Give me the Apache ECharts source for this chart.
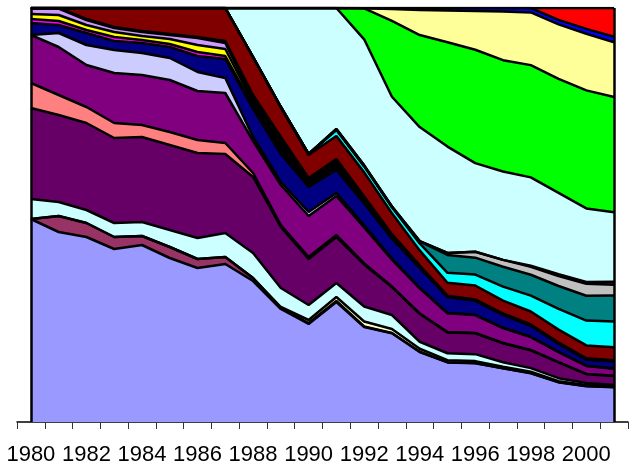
<!DOCTYPE html>
<html>
<head>
<meta charset="utf-8">
<script src="https://cdn.jsdelivr.net/npm/echarts@6/dist/echarts.min.js"></script>
<style>
html,body{margin:0;padding:0;background:#fff;}
#chart{width:632px;height:467px;}
</style>
</head>
<body>
<div id="chart"></div>
<script>
const years = ['1980','1981','1982','1983','1984','1985','1986','1987','1988','1989','1990','1991','1992','1993','1994','1995','1996','1997','1998','1999','2000','2001'];

// layer shares per year (bottom to top); normalised to 100% per year below
const periwinkle = [203,190,185,173,177,164,154,158,141,113,98,120,95,89,70,60,59,54,49,40,36,35];
const plum       = [0,16,14,12,9,11,9,7,3,1,1,1,0.5,0.3,0.2,0.2,0.2,0.2,0.2,0.2,0.2,0.2];
const ivory      = [0,0,0,0,0,0,0,0,0,1,3,4,5,4,3,2,2,1.5,1.5,1,1,1];
const paleCyan   = [20,14,13,14,14,17,21,24,25,19,15,14,15,14,7,7,7,4.5,3.5,3,2,1];
const darkPurple = [91,87,87,85,85,85,85,79,76,61,46,46,42,28,28,21,21,19,18,16,9,9];
const salmon     = [25,20,16,15,12,13,13,11,4,2,2,2,1,0.5,0.3,0.3,0.3,0.3,0.3,0.3,0.3,0.3];
const purple     = [48,48,42,50,50,52,49,50,32,40,41,39,36,27,25,19,18,15,13,10,8,7];
const lavender   = [0,14,20,23,22,22,19,15,4,3,4,3,2,1,0.5,0.3,0.3,0.3,0.3,0.3,0.3,0.3];
const navy       = [12,8,12,9,10,11,16,19,28,28,25,23,22,20,20,16,14,13,11,8,6,7];
const magenta    = [4,4,3,4,3,3,4,3,3,2,2,2,1,0.5,0.5,0.3,0.3,0.3,0.3,0.3,0.3,0.3];
const yellow     = [5,6,5,5,4,5,7,7,3,2,2,2,1,0.5,0.5,0.3,0.3,0.3,0.3,0.3,0.3,0.3];
const lilac      = [5.5,6.5,5,4,4,4,7,6,3,2,2,2,1,0.5,0.5,0.3,0.3,0.3,0.3,0.3,0.3,0.3];
const black      = [0.5,0.5,1,1,1,1,1,2,5,11,3,5,4,3,1,0.5,0.5,0.5,0.5,0.5,0.5,0.5];
const maroon     = [0,0,11,19,23,26,29,33,38,30,23,23,24,21,15,13,14,13,13,13,13,13];
const cyan       = [0,0,0,0,0,0,0,0,0,0,1,6,6,6,7,10,11,14,16,21,25,26];
const teal       = [0,0,0,0,0,0,0,0,0,0,0,0.5,0.5,0.5,2,18,17,20,21,23,25,26];
const silver     = [0,0,0,0,0,0,0,0,0,0,0,0.5,0.5,0.3,0.3,2,6,7,8,10,12,11];
const violet     = [0,0,0,0,0,0,0,0,0,0,0,0,0,0,0,0,0,0,1,2,2,3];
const iceBlue    = [0,0,0,0,0,0,0,0,49,99,146,121,126,110,114,107,89,89,89,82,74,70];
const green      = [0,0,0,0,0,0,0,0,0,0,0,0,31,76,92,105,114,112,113,115,119,116];
const lightYellow= [0,0,0,0,0,0,0,0,0,0,0,0,0,12,25,32,39,49,53,55,57,55];
const blue       = [0,0,0,0,0,0,0,0,0,0,0,0,0.3,1,2,2.5,3,3.5,4.5,4.5,5,5.5];
const red        = [0,0,0,0,0,0,0,0,0,0,0,0,0,0,0,0,0,0,0,12,21,29];

const layers = [
  {name:'periwinkle', color:'#9999FF', data:periwinkle},
  {name:'plum', color:'#993366', data:plum},
  {name:'ivory', color:'#FFFFCC', data:ivory},
  {name:'paleCyan', color:'#CCFFFF', data:paleCyan},
  {name:'darkPurple', color:'#660066', data:darkPurple},
  {name:'salmon', color:'#FF8080', data:salmon},
  {name:'purple', color:'#800080', data:purple},
  {name:'lavender', color:'#CCCCFF', data:lavender},
  {name:'navy', color:'#000080', data:navy},
  {name:'magenta', color:'#FF00FF', data:magenta},
  {name:'yellow', color:'#FFFF00', data:yellow},
  {name:'lilac', color:'#CC99FF', data:lilac},
  {name:'black', color:'#000000', data:black},
  {name:'maroon', color:'#800000', data:maroon},
  {name:'cyan', color:'#00FFFF', data:cyan},
  {name:'teal', color:'#008080', data:teal},
  {name:'silver', color:'#C0C0C0', data:silver},
  {name:'violet', color:'#800080', data:violet},
  {name:'iceBlue', color:'#CCFFFF', data:iceBlue},
  {name:'green', color:'#00FF00', data:green},
  {name:'lightYellow', color:'#FFFF99', data:lightYellow},
  {name:'blue', color:'#0000FF', data:blue},
  {name:'red', color:'#FF0000', data:red}
];

const totals = years.map((_, i) => layers.reduce((s, l) => s + l.data[i], 0));
const pct = l => l.data.map((v, i) => v / totals[i] * 100);

const series = [];
layers.forEach(l => {
  series.push({
    name: l.name, type: 'line', stack: 'fill', data: pct(l),
    symbol: 'none', silent: true, z: 2,
    lineStyle: {width: 0},
    areaStyle: {color: l.color, opacity: 1}
  });
});
layers.forEach((l, k) => {
  const s = {
    name: l.name + '_edge', type: 'line', stack: 'edge', data: pct(l),
    symbol: 'none', silent: true, z: 3,
    lineStyle: {color: '#000', width: 2.5}
  };
  if (k === 0) {
    s.markLine = {
      symbol: 'none', silent: true, animation: false,
      label: {show: false},
      lineStyle: {color: '#000', width: 2.5, type: 'solid'},
      data: [{xAxis: years[0]}, {xAxis: years[years.length - 1]}]
    };
  }
  series.push(s);
});

const chart = echarts.init(document.getElementById('chart'), null, {renderer: 'canvas'});
chart.setOption({
  animation: false,
  backgroundColor: '#fff',
  grid: {left: 17, right: 4, top: 8, bottom: 45, containLabel: false},
  xAxis: {
    type: 'category', data: years, boundaryGap: true,
    axisLine: {lineStyle: {color: '#000', width: 1.5}},
    axisTick: {show: true, interval: 0, length: 7, lineStyle: {color: '#333', width: 1}},
    axisLabel: {interval: 1, color: '#000', fontSize: 22, fontFamily: 'Arial, "Liberation Sans", sans-serif', margin: 22}
  },
  yAxis: {
    type: 'value', min: 0, max: 100, show: false, splitLine: {show: false}
  },
  series: series
});
</script>
</body>
</html>
